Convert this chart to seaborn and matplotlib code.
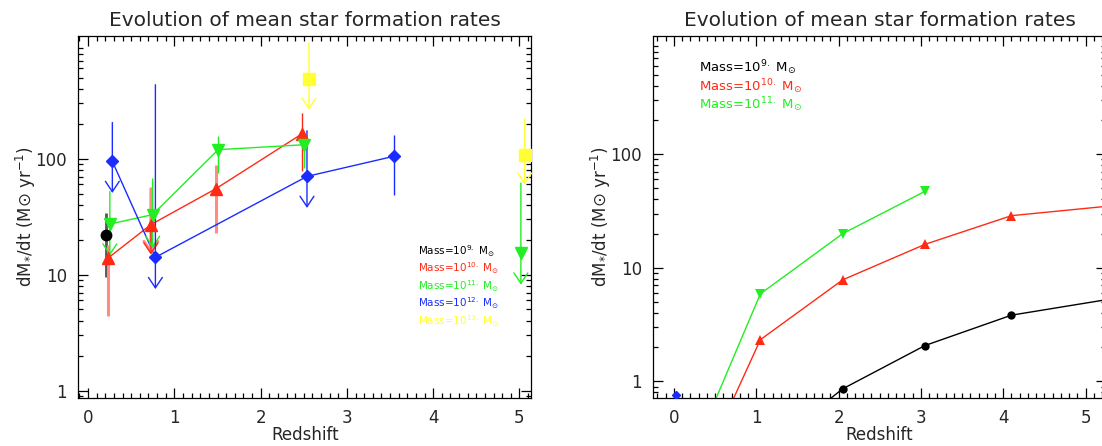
import numpy as np
import matplotlib
matplotlib.use("Agg")
import matplotlib.pyplot as plt
from matplotlib.ticker import FixedLocator, LogLocator, MultipleLocator, NullFormatter
import seaborn as sns

sns.set_style("ticks")
plt.rcParams['font.family'] = ['DejaVu Sans']
plt.rcParams['mathtext.fontset'] = 'dejavusans'

# colours (IDL-ish)
BLACK = '#000000'
RED = '#ff2a14'
SALMON = '#ff8c80'
GREEN = '#22ee22'
BLUE = '#1a2cff'
YELLOW = '#ffff33'

# ---------------- left panel data ----------------
# Mass = 1e9
z_m9 = [0.204]
sfr_m9 = [21.8]
m9_hi = [34.0]
m9_lo = [9.5]

# Mass = 1e10
z_m10 = [0.232, 0.728, 1.48, 2.475]
sfr_m10 = [13.9, 27.0, 55.0, 163.0]
m10_hi = [18.0, 55.0, 87.5, 248.0]
m10_lo = [4.4, 14.9, 22.9, 77.6]
m10_uplim = [False, True, False, False]

# Mass = 1e11
z_m11 = [0.252, 0.748, 1.508, 2.508, 5.016]
sfr_m11 = [27.3, 32.9, 119.6, 132.0, 15.4]
m11_hi = [52.0, 66.8, 158.0, 167.0, 61.7]
m11_lo = [14.6, 17.0, 75.3, 83.0, 8.2]
m11_uplim = [True, True, False, False, True]
m11_connected = 4

# Mass = 1e12
z_m12 = [0.281, 0.78, 2.537, 3.54]
sfr_m12 = [94.8, 14.1, 70.3, 104.7]
m12_hi = [205.0, 434.0, 174.0, 161.0]
m12_lo = [50.6, 7.5, 37.6, 49.0]
m12_uplim = [True, True, True, False]

# Mass = 1e13
z_m13 = [2.56, 5.06]
sfr_m13 = [490.0, 108.0]
m13_hi = [993.0, 220.0]
m13_lo = [264.0, 59.7]
m13_uplim = [True, True]

legend_left = ['Mass=10$^{9.}$ M$_{\\odot}$', 'Mass=10$^{10.}$ M$_{\\odot}$',
               'Mass=10$^{11.}$ M$_{\\odot}$', 'Mass=10$^{12.}$ M$_{\\odot}$',
               'Mass=10$^{13.}$ M$_{\\odot}$']

# ---------------- right panel data ----------------
rz_m9 = [1.05, 2.05, 3.05, 4.1, 6.1]
rsfr_m9 = [0.23, 0.86, 2.07, 3.83, 6.6]
rz_m10 = [0.05, 1.05, 2.05, 3.05, 4.1, 6.1]
rsfr_m10 = [0.06, 2.33, 7.84, 16.1, 28.8, 40.0]
rz_m11 = [0.05, 1.05, 2.05, 3.05]
rsfr_m11 = [0.115, 5.9, 20.0, 47.2]
rz_m12 = [0.03]
rsfr_m12 = [0.76]

legend_right = legend_left[:3]

title = 'Evolution of mean star formation rates'
ylabel = 'dM$_{*}$/dt (M$\\odot$ yr$^{-1}$)'
xlabel = 'Redshift'
yticks = [1, 10, 100]


def style_axis(ax, xlim, ylim):
    ax.set_yscale('log')
    ax.set_xlim(*xlim)
    ax.set_ylim(*ylim)
    ax.yaxis.set_major_locator(FixedLocator(yticks))
    ax.set_yticklabels([str(t) for t in yticks])
    ax.yaxis.set_minor_locator(LogLocator(base=10, subs=np.arange(2, 10)))
    ax.yaxis.set_minor_formatter(NullFormatter())
    ax.xaxis.set_major_locator(MultipleLocator(1))
    ax.xaxis.set_minor_locator(MultipleLocator(0.1))
    ax.tick_params(which='both', direction='in', top=True, right=True,
                   labelsize=12, width=0.9, color='black')
    ax.tick_params(which='major', length=7, pad=8)
    ax.tick_params(which='minor', length=3.5)
    for s in ax.spines.values():
        s.set_linewidth(0.9)
        s.set_color('black')
    ax.set_title(title, fontsize=14.5, pad=7)
    ax.set_xlabel(xlabel, fontsize=12, labelpad=-1)
    ax.set_ylabel(ylabel, fontsize=12, labelpad=-2)


def draw_bars(ax, z, hi, lo, uplim, color, lw=1.0):
    for zi, h, l, u in zip(z, hi, lo, uplim):
        if u:
            ax.annotate('', xy=(zi, l), xytext=(zi, h),
                        arrowprops=dict(arrowstyle='->,head_length=0.75,head_width=0.5',
                                        color=color, lw=lw, shrinkA=0, shrinkB=0))
        else:
            ax.vlines(zi, l, h, color=color, lw=lw)


fig = plt.figure(figsize=(11.02, 4.46), dpi=100)
ax1 = fig.add_axes([78 / 1102, 47.7 / 446, 453.4 / 1102, 362.6 / 446])
ax2 = fig.add_axes([653.1 / 1102, 47.7 / 446, 453 / 1102, 362.6 / 446])

# ---- left panel ----
ax1.vlines(z_m9, m9_lo, m9_hi, color='#555555', lw=2)
draw_bars(ax1, z_m10[:3], m10_hi[:3], m10_lo[:3], m10_uplim[:3], SALMON, lw=2.2)
draw_bars(ax1, z_m10[3:], m10_hi[3:], m10_lo[3:], m10_uplim[3:], RED)
ax1.annotate('', xy=(z_m10[1], m10_lo[1]), xytext=(z_m10[1], sfr_m10[1]),
             arrowprops=dict(arrowstyle='->,head_length=0.75,head_width=0.5',
                             color=RED, lw=1, shrinkA=0, shrinkB=0))
draw_bars(ax1, z_m11, m11_hi, m11_lo, m11_uplim, GREEN)
draw_bars(ax1, z_m12, m12_hi, m12_lo, m12_uplim, BLUE)
draw_bars(ax1, z_m13, m13_hi, m13_lo, m13_uplim, YELLOW)

sns.lineplot(x=z_m10, y=sfr_m10, ax=ax1, color=RED, lw=1, sort=False)
sns.lineplot(x=z_m11[:m11_connected], y=sfr_m11[:m11_connected], ax=ax1,
             color=GREEN, lw=1, sort=False)
sns.lineplot(x=z_m12, y=sfr_m12, ax=ax1, color=BLUE, lw=1, sort=False)

ax1.plot(z_m9, sfr_m9, 'o', color=BLACK, ms=7.5, zorder=5)
ax1.plot(z_m10, sfr_m10, '^', color=RED, ms=8.5, zorder=5)
ax1.plot(z_m11, sfr_m11, 'v', color=GREEN, ms=8.5, zorder=5)
ax1.plot(z_m12, sfr_m12, 'D', color=BLUE, ms=6.5, zorder=5)
ax1.plot(z_m13, sfr_m13, 's', color=YELLOW, ms=8, zorder=5)

for i, (txt, c) in enumerate(zip(legend_left, [BLACK, RED, GREEN, BLUE, YELLOW])):
    ax1.text(0.75, 0.407 - i * 0.0485, txt, color=c, fontsize=7.5,
             transform=ax1.transAxes, va='center', ha='left')

style_axis(ax1, (-0.117, 5.138), (0.857, 1150))

# ---- right panel ----
sns.lineplot(x=rz_m9, y=rsfr_m9, ax=ax2, color=BLACK, lw=1, sort=False,
             marker='o', markersize=6, markeredgewidth=0)
sns.lineplot(x=rz_m10, y=rsfr_m10, ax=ax2, color=RED, lw=1, sort=False,
             marker='^', markersize=6.5, markeredgewidth=0)
sns.lineplot(x=rz_m11, y=rsfr_m11, ax=ax2, color=GREEN, lw=1, sort=False,
             marker='v', markersize=6.5, markeredgewidth=0)
ax2.plot(rz_m12, rsfr_m12, 'D', color=BLUE, ms=4, zorder=5)

for i, (txt, c) in enumerate(zip(legend_right, [BLACK, RED, GREEN])):
    ax2.text(0.1016, 0.912 - i * 0.0515, txt, color=c, fontsize=9.5,
             transform=ax2.transAxes, va='center', ha='left')

style_axis(ax2, (-0.253, 5.25), (0.71, 1107))

fig.savefig('out.png', dpi=100)
